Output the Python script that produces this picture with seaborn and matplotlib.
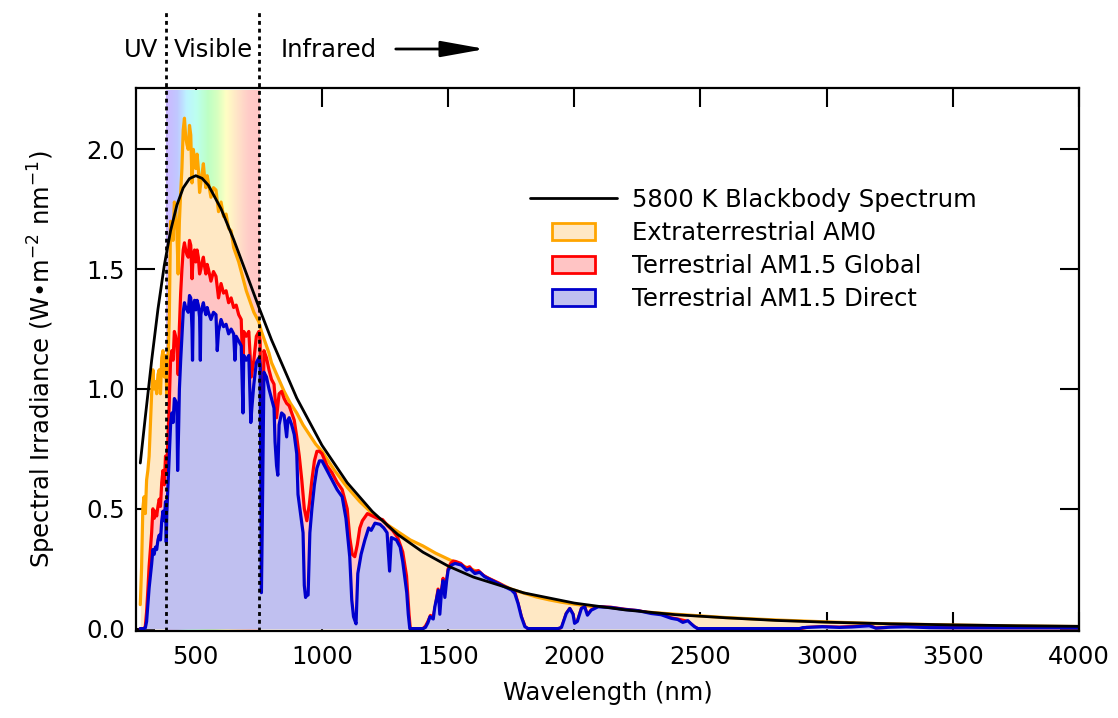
import numpy as np
import matplotlib
matplotlib.use("Agg")
import matplotlib.pyplot as plt
import matplotlib.patches as mpatches
from matplotlib.lines import Line2D
from matplotlib.colors import LinearSegmentedColormap
from matplotlib.legend_handler import HandlerPatch
from matplotlib.patches import ArrowStyle
import seaborn as sns

# ---------------- data ----------------
bb_wl = [280, 300, 325, 350, 375, 400, 425, 450, 475, 500, 525, 550, 600, 650, 700,
         750, 800, 900, 1000, 1100, 1200, 1300, 1400, 1500, 1600, 1800, 2000, 2200,
         2400, 2600, 2800, 3000, 3250, 3500, 3750, 4000]
bb_val = [0.691, 0.884, 1.119, 1.333, 1.515, 1.660, 1.767, 1.839, 1.878, 1.890, 1.879,
          1.850, 1.752, 1.624, 1.483, 1.341, 1.205, 0.962, 0.765, 0.609, 0.488, 0.393,
          0.319, 0.261, 0.215, 0.149, 0.1065, 0.0782, 0.0581, 0.0452, 0.0341, 0.0268,
          0.0202, 0.0155, 0.0120, 0.0095]

am0_wl = [280, 285, 290, 295, 300, 305, 310, 315, 320, 325, 330, 335, 340, 345, 350,
          355, 360, 365, 370, 375, 380, 385, 390, 395, 400, 405, 410, 415, 420, 425,
          430, 435, 440, 445, 450, 455, 460, 465, 470, 475, 480, 485, 490, 495, 500,
          505, 510, 515, 520, 525, 530, 535, 540, 545, 550, 560, 570, 580, 590, 600,
          610, 620, 630, 640, 650, 660, 670, 680, 690, 700, 710, 720, 730, 740, 750,
          760, 770, 780, 790, 800, 825, 850, 875, 900, 925, 950, 975, 1000, 1050, 1100,
          1150, 1200, 1250, 1300, 1350, 1400, 1450, 1500, 1550, 1600, 1650, 1700, 1750,
          1800, 1850, 1900, 1950, 2000, 2100, 2200, 2300, 2400, 2500, 2600, 2800, 3000,
          3200, 3500, 3750, 4000]
am0_val = [0.10, 0.25, 0.50, 0.55, 0.48, 0.62, 0.66, 0.72, 0.85, 0.98, 1.08, 1.00, 1.03,
           0.98, 1.06, 1.08, 0.98, 1.13, 1.16, 1.05, 1.14, 0.98, 1.12, 1.30, 1.70, 1.68,
           1.62, 1.78, 1.75, 1.66, 1.48, 1.70, 1.82, 1.92, 2.08, 2.13, 2.05, 2.02, 2.00,
           2.10, 2.06, 1.86, 2.00, 1.96, 1.92, 1.98, 1.92, 1.82, 1.86, 1.90, 1.94, 1.88,
           1.84, 1.89, 1.86, 1.80, 1.84, 1.83, 1.74, 1.78, 1.72, 1.73, 1.67, 1.66, 1.59,
           1.56, 1.53, 1.49, 1.45, 1.41, 1.38, 1.35, 1.32, 1.30, 1.28, 1.24, 1.21, 1.18,
           1.15, 1.11, 1.05, 0.99, 0.94, 0.90, 0.85, 0.81, 0.77, 0.74, 0.66, 0.59, 0.53,
           0.48, 0.44, 0.405, 0.37, 0.345, 0.315, 0.29, 0.265, 0.245, 0.215, 0.19, 0.165,
           0.148, 0.132, 0.12, 0.11, 0.102, 0.088, 0.078, 0.068, 0.060, 0.053, 0.046,
           0.036, 0.028, 0.021, 0.015, 0.011, 0.0085]

glob_wl = [280, 295, 300, 305, 310, 315, 320, 325, 330, 335, 340, 345, 350, 355, 360,
           365, 370, 375, 380, 385, 390, 395, 400, 405, 410, 415, 420, 425, 430, 435,
           440, 445, 450, 455, 460, 465, 470, 475, 480, 485, 490, 495, 500, 505, 510,
           515, 520, 525, 530, 535, 540, 545, 550, 560, 570, 580, 590, 600, 610, 620,
           630, 640, 650, 660, 670, 680, 687, 690, 700, 710, 720, 730, 740, 750, 755,
           760, 763, 770, 780, 790, 800, 810, 820, 830, 840, 850, 860, 870, 880, 890,
           900, 910, 920, 930, 940, 950, 960, 970, 980, 990, 1000, 1020, 1040, 1060,
           1080, 1100, 1110, 1120, 1130, 1140, 1150, 1160, 1180, 1200, 1220, 1240, 1260,
           1280, 1300, 1320, 1335, 1345, 1350, 1400, 1410, 1420, 1430, 1440, 1450, 1460,
           1465, 1475, 1480, 1487, 1495, 1500, 1510, 1520, 1530, 1550, 1570, 1585, 1600,
           1620, 1640, 1660, 1680, 1700, 1720, 1740, 1755, 1765, 1777, 1790, 1805, 1815,
           1940, 1950, 1968, 1982, 1995, 2001, 2012, 2028, 2041, 2052, 2067, 2094, 2146,
           2199, 2252, 2305, 2344, 2384, 2410, 2450, 2476, 2490, 2900, 2920, 2984, 3050,
           3169, 3195, 3314, 3406, 3500, 4000]
glob_val = [0.0, 0.0, 0.01, 0.07, 0.16, 0.26, 0.33, 0.40, 0.50, 0.46, 0.49, 0.47, 0.51,
            0.54, 0.51, 0.61, 0.66, 0.60, 0.72, 0.66, 0.80, 0.95, 1.12, 1.16, 1.12, 1.24,
            1.22, 1.18, 1.06, 1.26, 1.40, 1.50, 1.58, 1.61, 1.58, 1.56, 1.55, 1.62, 1.60,
            1.46, 1.56, 1.58, 1.53, 1.58, 1.55, 1.48, 1.50, 1.53, 1.55, 1.51, 1.48, 1.52,
            1.50, 1.45, 1.49, 1.47, 1.38, 1.44, 1.40, 1.41, 1.36, 1.38, 1.34, 1.35, 1.31,
            1.29, 1.05, 1.24, 1.22, 1.24, 1.05, 1.12, 1.22, 1.24, 1.20, 0.30, 0.55, 1.16,
            1.13, 1.08, 1.04, 1.02, 0.88, 0.98, 0.99, 0.96, 0.94, 0.93, 0.90, 0.87, 0.80,
            0.72, 0.62, 0.50, 0.45, 0.52, 0.62, 0.70, 0.74, 0.74, 0.73, 0.68, 0.65, 0.61,
            0.58, 0.50, 0.38, 0.31, 0.30, 0.35, 0.42, 0.45, 0.48, 0.47, 0.46, 0.455, 0.43,
            0.41, 0.38, 0.32, 0.22, 0.06, 0.0, 0.0, 0.01, 0.03, 0.055, 0.045, 0.095, 0.165,
            0.105, 0.17, 0.21, 0.14, 0.21, 0.25, 0.272, 0.282, 0.28, 0.272, 0.252, 0.258,
            0.238, 0.242, 0.222, 0.21, 0.20, 0.19, 0.178, 0.168, 0.16, 0.15, 0.105, 0.05,
            0.008, 0.0, 0.0, 0.005, 0.063, 0.084, 0.06, 0.022, 0.03, 0.084, 0.092, 0.056,
            0.078, 0.092, 0.089, 0.081, 0.075, 0.064, 0.058, 0.045, 0.04, 0.03, 0.008, 0.0,
            0.0, 0.005, 0.008, 0.006, 0.012, 0.003, 0.008, 0.005, 0.004, 0.0035]

dir_wl = [280, 295, 300, 305, 310, 315, 320, 325, 330, 335, 340, 345, 350, 355, 360,
          365, 370, 375, 380, 383, 385, 390, 395, 400, 405, 410, 415, 420, 425, 428,
          432, 435, 440, 445, 450, 455, 460, 465, 470, 475, 480, 485, 487, 490, 495,
          500, 505, 510, 515, 518, 520, 525, 530, 535, 540, 545, 550, 560, 570, 580,
          585, 590, 600, 610, 620, 630, 640, 650, 655, 660, 670, 680, 687, 690, 700,
          710, 718, 722, 730, 740, 750, 755, 760, 763, 770, 780, 790, 800, 810, 814,
          820, 825, 830, 840, 850, 860, 865, 870, 880, 890, 900, 905, 915, 925, 930,
          935, 940, 945, 952, 960, 970, 980, 990, 1000, 1020, 1040, 1060, 1080, 1095,
          1110, 1118, 1125, 1135, 1142, 1155, 1170, 1185, 1195, 1210, 1230, 1245, 1258,
          1268, 1275, 1295, 1310, 1320, 1330, 1336, 1342, 1348, 1400, 1410, 1420, 1428,
          1441, 1447, 1461, 1467, 1474, 1480, 1487, 1494, 1500, 1513, 1527, 1553, 1573,
          1586, 1606, 1625, 1645, 1672, 1698, 1724, 1751, 1764, 1777, 1790, 1804, 1817,
          1935, 1949, 1968, 1982, 1995, 2001, 2012, 2028, 2041, 2052, 2067, 2094, 2146,
          2199, 2252, 2305, 2344, 2384, 2410, 2430, 2450, 2465, 2476, 2489, 2892, 2905,
          2984, 3050, 3100, 3169, 3195, 3250, 3314, 3406, 3500, 4000]
dir_val = [0.0, 0.0, 0.003, 0.03, 0.10, 0.17, 0.22, 0.27, 0.33, 0.31, 0.34, 0.33, 0.37,
           0.39, 0.37, 0.45, 0.49, 0.45, 0.53, 0.36, 0.48, 0.60, 0.72, 0.85, 0.90, 0.86,
           0.96, 0.95, 0.93, 0.66, 0.84, 1.00, 1.12, 1.22, 1.32, 1.36, 1.34, 1.33, 1.32,
           1.39, 1.38, 1.25, 1.12, 1.35, 1.37, 1.33, 1.37, 1.35, 1.30, 1.12, 1.31, 1.34,
           1.36, 1.33, 1.31, 1.34, 1.32, 1.29, 1.32, 1.31, 1.16, 1.24, 1.29, 1.26, 1.27,
           1.23, 1.25, 1.23, 1.12, 1.22, 1.20, 1.18, 0.90, 1.14, 1.12, 1.14, 0.86, 0.92,
           1.02, 1.11, 1.13, 1.10, 0.15, 0.40, 1.07, 1.05, 1.00, 0.96, 0.92, 0.78, 0.68,
           0.64, 0.85, 0.90, 0.89, 0.80, 0.87, 0.88, 0.85, 0.81, 0.73, 0.56, 0.48, 0.40,
           0.18, 0.13, 0.14, 0.14, 0.40, 0.50, 0.60, 0.67, 0.70, 0.70, 0.66, 0.62, 0.58,
           0.55, 0.46, 0.30, 0.12, 0.05, 0.02, 0.23, 0.31, 0.37, 0.42, 0.41, 0.44, 0.435,
           0.42, 0.40, 0.24, 0.38, 0.37, 0.34, 0.28, 0.20, 0.15, 0.06, 0.0, 0.0, 0.005,
           0.025, 0.05, 0.04, 0.09, 0.16, 0.06, 0.16, 0.20, 0.13, 0.20, 0.244, 0.265,
           0.272, 0.265, 0.244, 0.25, 0.23, 0.235, 0.216, 0.202, 0.188, 0.175, 0.161,
           0.147, 0.105, 0.05, 0.008, 0.0, 0.0, 0.005, 0.063, 0.084, 0.06, 0.022, 0.03,
           0.084, 0.091, 0.056, 0.077, 0.091, 0.088, 0.080, 0.075, 0.063, 0.058, 0.043,
           0.038, 0.026, 0.033, 0.018, 0.008, 0.0, 0.0, 0.004, 0.008, 0.005, 0.007, 0.012,
           0.002, 0.006, 0.008, 0.004, 0.0035, 0.0035]

x_ticks = [500, 1000, 1500, 2000, 2500, 3000, 3500, 4000]
y_ticks = [0.0, 0.5, 1.0, 1.5, 2.0]
labels = ["5800 K Blackbody Spectrum", "Extraterrestrial AM0",
          "Terrestrial AM1.5 Global", "Terrestrial AM1.5 Direct"]
region_labels = ["UV", "Visible", "Infrared"]
uv_edge, ir_edge = 380, 750

# ---------------- style ----------------
sns.set_style("ticks")
plt.rcParams["font.family"] = ["DejaVu Sans"]
for key in ("text.color", "axes.labelcolor", "xtick.color", "ytick.color",
            "axes.edgecolor"):
    plt.rcParams[key] = "black"
FS = 17.5

am0_line, am0_fill = "#FFA500", "#FFE8C4"
glob_line, glob_fill = "#FF0000", "#FFC4C4"
dir_line, dir_fill = "#0000CC", "#C0C0F0"

W, H = 1118, 718
fig = plt.figure(figsize=(W / 100, H / 100), dpi=100)
ax = fig.add_axes([136 / W, 1 - 631 / H, 943 / W, 543 / H])
ax.set_axisbelow(True)

# visible rainbow band
rainbow = LinearSegmentedColormap.from_list(
    "vis", [(0.00, "#CDB8FF"), (0.12, "#C0C8FF"), (0.22, "#BDF4FF"),
            (0.32, "#BCFFF0"), (0.45, "#BEFFC4"), (0.55, "#D8FFC0"),
            (0.64, "#FFFFC4"), (0.76, "#FFE4C8"), (0.88, "#FFCCC8"),
            (1.00, "#FFC6C6")])
ax.imshow(np.linspace(0, 1, 256)[None, :], cmap=rainbow, aspect="auto",
          extent=(uv_edge, ir_edge, -0.02, 2.245), zorder=0.8, interpolation="bilinear")

# fills
ax.fill_between(am0_wl, 0, am0_val, color=am0_fill, lw=0, zorder=1.0)
ax.fill_between(glob_wl, 0, glob_val, color=glob_fill, lw=0, zorder=1.2)
ax.fill_between(dir_wl, 0, dir_val, color=dir_fill, lw=0, zorder=1.4)

# lines
sns.lineplot(x=am0_wl, y=am0_val, ax=ax, color=am0_line, lw=2.3, estimator=None,
             zorder=1.1)
sns.lineplot(x=glob_wl, y=glob_val, ax=ax, color=glob_line, lw=2.3, estimator=None,
             zorder=1.3)
sns.lineplot(x=dir_wl, y=dir_val, ax=ax, color=dir_line, lw=2.3, estimator=None,
             zorder=1.5)
sns.lineplot(x=bb_wl, y=bb_val, ax=ax, color="black", lw=2.0, estimator=None,
             zorder=3)

# region separators (extend above the axes)
for xv in (uv_edge, ir_edge):
    ax.axvline(xv, ymin=0, ymax=(631 - 9) / 543, color="black", lw=2.0,
               ls=(0, (1.4, 1.4)), clip_on=False, zorder=4)

ax.set_xlim(263, 4000)
ax.set_ylim(-0.01, 2.256)
ax.set_xticks(x_ticks)
ax.set_xticklabels([str(v) for v in x_ticks])
ax.set_yticks(y_ticks)
ax.set_yticklabels([f"{v:.1f}" for v in y_ticks])
ax.tick_params(axis="both", which="major", direction="in", length=13.5, width=1.5,
               top=True, right=True, labelsize=FS, color="black", labelcolor="black")
ax.tick_params(axis="x", pad=10)
ax.tick_params(axis="y", pad=8)
for sp in ax.spines.values():
    sp.set_visible(True)
    sp.set_linewidth(1.6)
    sp.set_color("black")
    sp.set_zorder(5)

ax.set_xlabel("Wavelength (nm)", fontsize=FS, labelpad=9, color="black")
ax.set_ylabel("Spectral Irradiance (W\u2022m$^{-2}$ nm$^{-1}$)", fontsize=FS,
              labelpad=20, color="black")

# top region labels and arrow
base_y = 1 - 57 / H
fig.text(141 / W, base_y, region_labels[0], ha="center", va="baseline", fontsize=FS)
fig.text(213 / W, base_y, region_labels[1], ha="center", va="baseline", fontsize=FS)
fig.text(329 / W, base_y, region_labels[2], ha="center", va="baseline", fontsize=FS)
arr = mpatches.FancyArrowPatch((393 / W, 1 - 49 / H), (488 / W, 1 - 49 / H),
                               transform=fig.transFigure,
                               arrowstyle=ArrowStyle("-|>", head_length=1.0, head_width=0.18),
                               mutation_scale=27, lw=2, color="black")
fig.add_artist(arr)

# legend
def narrow_rect(legend, orig_handle, xdescent, ydescent, width, height, fontsize):
    return mpatches.Rectangle((-xdescent + 0.25 * width, -ydescent), 0.5 * width, height)

handles = [Line2D([], [], color="black", lw=2.0),
           mpatches.Patch(facecolor=am0_fill, edgecolor=am0_line, lw=2),
           mpatches.Patch(facecolor=glob_fill, edgecolor=glob_line, lw=2),
           mpatches.Patch(facecolor=dir_fill, edgecolor=dir_line, lw=2)]
hp = HandlerPatch(patch_func=narrow_rect)
leg = ax.legend(handles, labels, loc="upper left",
                bbox_to_anchor=((530 - 136) / 943, (631 - 188) / 543),
                frameon=False, fontsize=FS, handlelength=3.58, handleheight=0.7,
                handletextpad=0.62, labelspacing=0.37, borderpad=0, borderaxespad=0,
                handler_map={h: hp for h in handles[1:]})
for t in leg.get_texts():
    t.set_color("black")

fig.savefig("out.png", dpi=100)
